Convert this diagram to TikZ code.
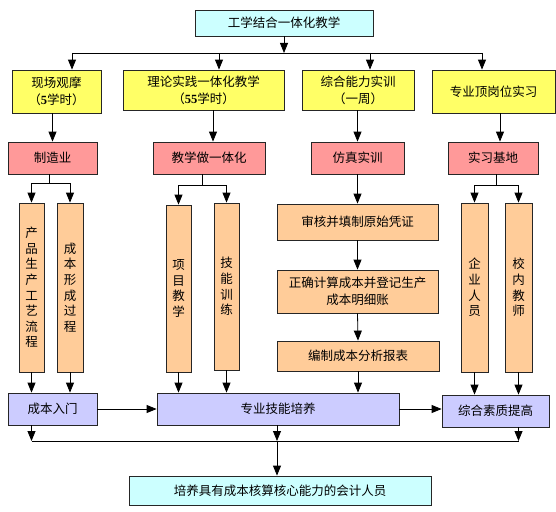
\documentclass[tikz,border=0pt]{standalone}
\usepackage{fontspec}
\setmainfont{Noto Sans CJK SC}
\newfontfamily\numf{Liberation Serif}
\usetikzlibrary{arrows.meta}
\definecolor{cyanc}{HTML}{CCFFFF}
\definecolor{yelc}{HTML}{FFFF66}
\definecolor{pinkc}{HTML}{FF9999}
\definecolor{orc}{HTML}{FFCC99}
\definecolor{lavc}{HTML}{CCCCFF}
\newcommand\myfs{\fontsize{12.5}{17}\selectfont}
\newcommand\myvfs{\fontsize{12.5}{15.6}\selectfont}
\newcommand\dg[1]{{\numf\bfseries #1}}
\begin{document}
\begin{tikzpicture}[x=1pt,y=-1pt,
  box/.style={draw=black!85, line width=0.8pt, inner sep=0pt, align=center, font=\myfs},
  vbox/.style={box, fill=orc, font=\myvfs},
  ln/.style={draw=black, line width=0.8pt},
  arr/.style={ln, -{Triangle[width=8pt,length=10pt]}}]
\useasboundingbox (0,0) rectangle (556,511);
\coordinate (bus) at (0,53);
\coordinate (bus2) at (0,441);
% top
\node[box, fill=cyanc, minimum width=178pt, minimum height=26pt] (top) at (284,23) {工学结合一体化教学};
% yellow
\node[box, fill=yelc, minimum width=89pt, minimum height=43pt] (y1) at (56.5,91.5) {现场观摩\\（\dg{5}学时）};
\node[box, fill=yelc, minimum width=161pt, minimum height=40pt] (y2) at (203.5,90) {理论实践一体化教学\\（\dg{55}学时）};
\node[box, fill=yelc, minimum width=112pt, minimum height=40pt] (y3) at (358,90) {综合能力实训\\（一周）};
\node[box, fill=yelc, minimum width=123pt, minimum height=43pt] (y4) at (493.5,91.5) {专业顶岗位实习};
% pink
\node[box, fill=pinkc, minimum width=89pt, minimum height=32pt] (p1) at (52.5,158) {制造业};
\node[box, fill=pinkc, minimum width=112pt, minimum height=32pt] (p2) at (209,158) {教学做一体化};
\node[box, fill=pinkc, minimum width=93pt, minimum height=32pt] (p3) at (357.5,158) {仿真实训};
\node[box, fill=pinkc, minimum width=90pt, minimum height=32pt] (p4) at (493,158) {实习基地};
% orange vertical
\node[vbox, minimum width=25pt, minimum height=169pt] (o1) at (31.5,287.5) {产\\品\\生\\产\\工\\艺\\流\\程};
\node[vbox, minimum width=26pt, minimum height=169pt] (o2) at (70,287.5) {成\\本\\形\\成\\过\\程};
\node[vbox, minimum width=25pt, minimum height=167pt] (o3) at (178.5,288.5) {项\\目\\教\\学};
\node[vbox, minimum width=25pt, minimum height=167pt] (o4) at (226.5,286.5) {技\\能\\训\\练};
\node[vbox, minimum width=27pt, minimum height=169pt] (o5) at (474.5,287.5) {企\\业\\人\\员};
\node[vbox, minimum width=27pt, minimum height=169pt] (o6) at (518.5,287.5) {校\\内\\教\\师};
% orange horizontal
\node[box, fill=orc, minimum width=161pt, minimum height=36pt] (h1) at (357.5,222) {审核并填制原始凭证};
\node[box, fill=orc, minimum width=161pt, minimum height=43pt] (h2) at (357.5,291.5) {正确计算成本并登记生产\\成本明细账};
\node[box, fill=orc, minimum width=162pt, minimum height=30pt] (h3) at (358,356) {编制成本分析报表};
% lavender
\node[box, fill=lavc, minimum width=89pt, minimum height=32pt] (l1) at (52.5,409) {成本入门};
\node[box, fill=lavc, minimum width=242pt, minimum height=32pt] (l2) at (278,409) {专业技能培养};
\node[box, fill=lavc, minimum width=107pt, minimum height=32pt] (l3) at (495.5,411) {综合素质提高};
% final
\node[box, fill=cyanc, minimum width=302pt, minimum height=29pt] (fin) at (280,490.5) {培养具有成本核算核心能力的会计人员};
% top connectors
\draw[arr] (top.south) -- (top.south |- bus);
\draw[ln] ([xshift=15.5pt]y1.north |- bus) -- ([xshift=-11.5pt]y4.north |- bus);
\foreach \n/\s in {y1/15.5, y2/15.5, y3/12, y4/-11.5}
  \draw[arr] ([xshift=\s pt]\n.north |- bus) -- ([xshift=\s pt]\n.north);
% yellow -> pink
\draw[arr] (p1.north |- y1.south) -- (p1.north);
\draw[arr] ([xshift=4pt]p2.north |- y2.south) -- ([xshift=4pt]p2.north);
\draw[arr] (p3.north |- y3.south) -- (p3.north);
\draw[arr] ([xshift=7pt]p4.north |- y4.south) -- ([xshift=7pt]p4.north);
% pink -> branches
\draw[ln] ([xshift=-3.5pt]p1.south) -- ++(0,9) coordinate (b1);
\draw[ln] (o1.north |- b1) -- (o2.north |- b1);
\draw[arr] (o1.north |- b1) -- (o1.north);
\draw[arr] (o2.north |- b1) -- (o2.north);
\draw[ln] ([xshift=-7pt]p2.south) -- ++(0,11) coordinate (b2);
\draw[ln] (o3.north |- b2) -- (o4.north |- b2);
\draw[arr] (o3.north |- b2) -- (o3.north);
\draw[arr] (o4.north |- b2) -- (o4.north);
\draw[ln] ([xshift=3pt]p4.south) -- ++(0,11) coordinate (b4);
\draw[ln] (o5.north |- b4) -- (o6.north |- b4);
\draw[arr] (o5.north |- b4) -- (o5.north);
\draw[arr] (o6.north |- b4) -- (o6.north);
\draw[arr] (p3.south) -- (h1.north);
\draw[arr] (h1.south) -- (h2.north);
\draw[arr] (h2.south) -- (h3.north);
% to lavender
\draw[arr] (o1.south) -- (o1.south |- l1.north);
\draw[arr] (o2.south) -- (o2.south |- l1.north);
\draw[arr] (o3.south) -- (o3.south |- l2.north);
\draw[arr] (o4.south) -- (o4.south |- l2.north);
\draw[arr] (h3.south) -- (h3.south |- l2.north);
\draw[arr] (o5.south) -- (o5.south |- l3.north);
\draw[arr] (o6.south) -- (o6.south |- l3.north);
\draw[arr] (l1.east) -- (l1.east -| l2.west);
\draw[arr] (l2.east) -- (l2.east -| l3.west);
% bottom bus
\draw[arr] (o1.south |- l1.south) -- (o1.south |- bus2);
\draw[arr] ([xshift=-1pt]l2.south) -- ([xshift=-1pt]l2.south |- bus2);
\draw[arr] (o6.south |- l3.south) -- (o6.south |- bus2);
\draw[ln] (o1.south |- bus2) -- (o6.south |- bus2);
\draw[arr] ([xshift=-1pt]l2.south |- bus2) -- ([xshift=-1pt]l2.south |- fin.north);
\end{tikzpicture}
\end{document}
